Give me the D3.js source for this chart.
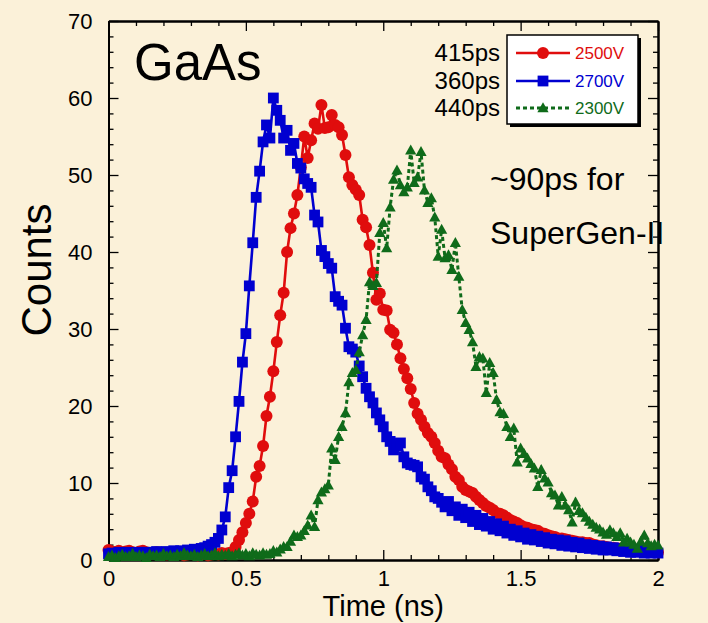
<!DOCTYPE html>
<html>
<head>
<meta charset="utf-8">
<script src="https://cdn.jsdelivr.net/npm/d3@7"></script>
<style>
  html, body { margin: 0; padding: 0; background: #fbf1d9; }
  svg { display: block; }
  text { font-family: "Liberation Sans", Arial, Helvetica, sans-serif; }
</style>
</head>
<body>
<svg id="chart" width="708" height="623"></svg>
<script>
// Time bins (ns) of the timing histograms
const binWidth = 0.0125;

// Counts per bin, 2500 V bias
const counts2500 = [
  1.3,1.1,1.0,1.2,0.9,1.1,1.2,1.0,0.9,1.1,1.2,1.0,0.8,0.9,1.0,0.8,0.9,0.7,0.8,0.9,
  0.7,0.8,0.6,0.7,0.8,0.7,0.6,0.7,0.8,0.6,0.7,0.8,0.7,0.9,0.8,0.9,
  1.0,1.7,2.6,3.6,4.8,6.0,7.6,10.8,12.2,14.8,18.7,21.2,
  24.5,28.3,31.8,34.7,40.0,43.1,45.0,47.4,
  51.0,55.0,52.2,54.5,56.7,56.0,59.1,56.1,56.2,57.8,56.5,56.2,55.2,52.6,49.7,48.7,48.1,47.4,44.2,43.2,40.9,37.3,
  33.8,34.6,32.5,32.4,29.9,29.5,28.0,26.2,24.8,23.6,22.2,20.4,19.0,18.2,17.3,16.5,16.0,15.2,14.2,13.4,
  13.2,12.4,11.8,10.8,10.4,9.5,9.1,8.9,8.7,8.2,7.8,7.4,7.0,6.8,6.5,6.1,6.0,5.8,5.5,5.2,
  5.0,4.8,4.5,4.3,4.2,4.0,3.9,3.8,3.5,3.4,3.2,3.1,3.0,2.8,2.8,2.7,2.6,2.5,2.4,2.3,
  2.3,2.2,2.2,2.0,1.9,1.8,1.8,1.7,1.6,1.6,1.5,1.5,1.4,1.5,1.3,1.3,1.2,1.3,1.2,1.1,
  1.2,1.0,1.0
];

// Counts per bin, 2700 V bias
const counts2700 = [
  0.8,0.9,0.8,1.0,0.9,0.8,1.0,0.9,0.9,1.0,0.8,1.0,0.9,1.0,1.1,0.9,1.0,1.1,1.0,1.2,
  1.1,1.2,1.1,1.3,1.2,1.4,1.3,1.5,
  1.6,1.8,2.0,2.3,2.8,3.9,5.6,9.4,11.6,16.0,20.6,25.7,29.4,35.6,41.2,47.1,50.5,54.3,56.5,54.8,
  60.0,58.4,57.1,54.8,55.8,53.2,54.1,51.5,50.9,49.5,48.9,48.4,44.8,43.9,40.2,39.4,38.5,37.9,
  34.2,33.6,33.1,30.1,27.7,27.4,27.0,25.2,23.8,22.3,21.2,20.4,19.1,18.2,17.3,16.0,15.4,14.3,
  14.8,15.2,13.4,12.6,12.4,12.3,12.1,10.8,10.5,9.5,9.0,8.2,8.0,7.5,
  6.9,7.6,6.4,6.9,5.8,6.6,5.5,6.2,5.0,5.8,4.6,5.4,4.4,5.0,4.0,4.7,3.8,4.4,3.5,4.0,
  3.2,3.8,3.0,3.5,2.7,3.3,2.6,3.1,2.4,2.9,2.2,2.7,2.1,2.6,1.9,2.5,1.8,2.3,1.7,2.2,
  1.6,2.0,1.5,1.9,1.4,1.8,1.3,1.7,1.3,1.6,1.2,1.5,1.1,1.4,1.0,1.4,1.0,1.3,0.9,1.2,
  0.9,1.1,0.9
];

// Counts per bin, 2300 V bias
const counts2300 = [
  0.4,0.6,0.3,0.5,0.7,0.4,0.5,0.8,0.4,0.6,0.5,0.3,0.7,0.5,0.6,0.4,0.8,0.5,0.6,0.4,
  0.7,0.5,0.9,0.6,0.5,0.7,0.4,0.6,0.8,0.5,0.6,0.9,0.5,0.7,0.6,0.8,0.5,0.7,0.9,0.6,
  0.8,0.5,0.9,0.7,0.6,0.9,0.7,0.8,1.2,1.0,
  1.4,1.7,1.7,2.4,3.2,3.0,3.2,3.8,4.5,5.8,4.3,7.8,8.8,9.2,
  9.7,14.5,13.0,16.0,17.3,19.1,23.1,24.3,24.7,27.0,29.2,31.2,36.1,35.6,36.0,42.5,
  43.8,40.5,45.8,49.4,50.6,48.7,47.8,48.4,53.2,49.0,49.7,53.0,48.0,46.4,47.0,44.5,
  39.4,42.9,39.2,39.6,37.7,41.2,36.8,32.5,30.8,29.9,28.3,25.1,26.4,26.2,21.7,25.6,24.3,
  20.8,19.2,19.0,17.3,16.0,17.1,12.7,14.5,13.8,13.2,12.5,11.9,9.5,11.7,10.6,10.1,8.7,8.4,
  7.1,8.2,7.1,6.5,4.9,7.5,6.4,6.1,5.5,5.0,4.6,4.2,4.0,3.6,3.3,3.9,3.5,3.0,3.5,2.3,
  2.8,2.3,2.0,1.5,2.4,3.2,2.2,1.8,2.0,1.9
];

// Legend entries and rise-time annotations
const seriesNames = ["2500V", "2700V", "2300V"];
const riseTimes = ["415ps", "360ps", "440ps"];

// Axis ticks
const xTickValues = [0, 0.5, 1, 1.5, 2];
const xTickLabels = ["0", "0.5", "1", "1.5", "2"];
const yTickValues = [0, 10, 20, 30, 40, 50, 60, 70];
const yTickLabels = ["0", "10", "20", "30", "40", "50", "60", "70"];

const svg = d3.select("#chart");
const W = 708, H = 623;
const plot = { left: 108.5, right: 658, top: 21, bottom: 560 };

// parchment background
svg.append("rect").attr("width", W).attr("height", H).attr("fill", "#fbf1d9");

const x = d3.scaleLinear().domain([0, 2]).range([plot.left, plot.right]);
const y = d3.scaleLinear().domain([0, 70]).range([plot.bottom, plot.top]);

const fontFam = '"Liberation Sans", Arial, Helvetica, sans-serif';

// ---- axes (ticks point inward on all four sides) ----
function styleAxis(g) {
  g.selectAll("path.domain").attr("stroke", "#000").attr("stroke-width", 2);
  g.selectAll(".tick line").attr("stroke", "#000").attr("stroke-width", 1.3);
  g.selectAll(".tick text").attr("font-family", fontFam).attr("font-size", 22).attr("fill", "#000");
}
const xMinor = d3.range(0, 21).map(i => i / 10).filter(v => !xTickValues.includes(v));
const yMinor = d3.range(0, 36).map(i => i * 2).filter(v => !yTickValues.includes(v));

// bottom
svg.append("g").attr("transform", `translate(0,${plot.bottom})`)
  .call(d3.axisBottom(x).tickValues(xMinor).tickSize(-5).tickSizeOuter(0).tickFormat(""))
  .call(styleAxis);
svg.append("g").attr("transform", `translate(0,${plot.bottom})`)
  .call(d3.axisBottom(x).tickValues(xTickValues).tickSize(-10).tickSizeOuter(0)
    .tickPadding(10).tickFormat((d, i) => xTickLabels[i]))
  .call(styleAxis);
// top
svg.append("g").attr("transform", `translate(0,${plot.top})`)
  .call(d3.axisTop(x).tickValues(xMinor).tickSize(-5).tickSizeOuter(0).tickFormat(""))
  .call(styleAxis);
svg.append("g").attr("transform", `translate(0,${plot.top})`)
  .call(d3.axisTop(x).tickValues(xTickValues).tickSize(-10).tickSizeOuter(0).tickFormat(""))
  .call(styleAxis);
// left
svg.append("g").attr("transform", `translate(${plot.left},0)`)
  .call(d3.axisLeft(y).tickValues(yMinor).tickSize(-5).tickSizeOuter(0).tickFormat(""))
  .call(styleAxis);
svg.append("g").attr("transform", `translate(${plot.left},0)`)
  .call(d3.axisLeft(y).tickValues(yTickValues).tickSize(-10).tickSizeOuter(0)
    .tickPadding(16).tickFormat((d, i) => yTickLabels[i]))
  .call(styleAxis);
// right
svg.append("g").attr("transform", `translate(${plot.right},0)`)
  .call(d3.axisRight(y).tickValues(yMinor).tickSize(-5).tickSizeOuter(0).tickFormat(""))
  .call(styleAxis);
svg.append("g").attr("transform", `translate(${plot.right},0)`)
  .call(d3.axisRight(y).tickValues(yTickValues).tickSize(-10).tickSizeOuter(0).tickFormat(""))
  .call(styleAxis);

// axis titles
svg.append("text").attr("x", (plot.left + plot.right) / 2).attr("y", 616)
  .attr("text-anchor", "middle").attr("font-size", 29).text("Time (ns)");
svg.append("text").attr("transform", "translate(51,270) rotate(-90)")
  .attr("text-anchor", "middle").attr("font-size", 42).text("Counts");

// ---- series ----
const series = [
  { name: seriesNames[0], values: counts2500, color: "#e00d0d", marker: "circle", dash: null },
  { name: seriesNames[1], values: counts2700, color: "#0000d0", marker: "square", dash: null },
  { name: seriesNames[2], values: counts2300, color: "#0f6b1a", marker: "triangle", dash: "4,3" }
];

function drawMarker(g, type, color) {
  if (type === "circle") {
    g.append("circle").attr("r", 6).attr("fill", color);
  } else if (type === "square") {
    g.append("rect").attr("x", -5.4).attr("y", -5.4).attr("width", 10.8).attr("height", 10.8).attr("fill", color);
  } else {
    g.append("path").attr("d", "M0,-5.8L5.6,4.2L-5.6,4.2Z").attr("fill", color);
  }
}

const line = d3.line().x(d => x(d.t)).y(d => y(d.c));

series.forEach(s => {
  const pts = s.values.map((c, i) => ({ t: i * binWidth, c }));
  const g = svg.append("g");
  g.append("path").datum(pts).attr("d", line)
    .attr("fill", "none").attr("stroke", s.color)
    .attr("stroke-width", s.dash ? 3 : 2.6)
    .attr("stroke-dasharray", s.dash);
  g.selectAll("g.pt").data(pts).join("g").attr("class", "pt")
    .attr("transform", d => `translate(${x(d.t)},${y(d.c)})`)
    .each(function () { drawMarker(d3.select(this), s.marker, s.color); });
});

// ---- annotations ----
svg.append("text").attr("x", 134).attr("y", 80).attr("font-size", 51).text("GaAs");
svg.append("text").attr("x", 490).attr("y", 190).attr("font-size", 32).text("~90ps for");
svg.append("text").attr("x", 490).attr("y", 244).attr("font-size", 32).text("SuperGen-II");

// ---- legend ----
const lg = { x: 507, y: 35, w: 131, h: 89 };
svg.append("rect").attr("x", lg.x + 3).attr("y", lg.y + 3).attr("width", lg.w).attr("height", lg.h).attr("fill", "#000");
svg.append("rect").attr("x", lg.x).attr("y", lg.y).attr("width", lg.w).attr("height", lg.h)
  .attr("fill", "#fff").attr("stroke", "#000").attr("stroke-width", 1.5);
const rowY = [53, 81, 108];
series.forEach((s, i) => {
  const g = svg.append("g");
  g.append("line").attr("x1", 516).attr("x2", 570).attr("y1", rowY[i]).attr("y2", rowY[i])
    .attr("stroke", s.color).attr("stroke-width", s.dash ? 3 : 2.6).attr("stroke-dasharray", s.dash);
  drawMarker(g.append("g").attr("transform", `translate(543,${rowY[i]})`), s.marker, s.color);
  g.append("text").attr("x", 575).attr("y", rowY[i] + 6).attr("font-size", 17)
    .attr("fill", s.color).text(s.name);
  svg.append("text").attr("x", 500).attr("y", rowY[i] + 8).attr("font-size", 24)
    .attr("text-anchor", "end").text(riseTimes[i]);
});
</script>
</body>
</html>
